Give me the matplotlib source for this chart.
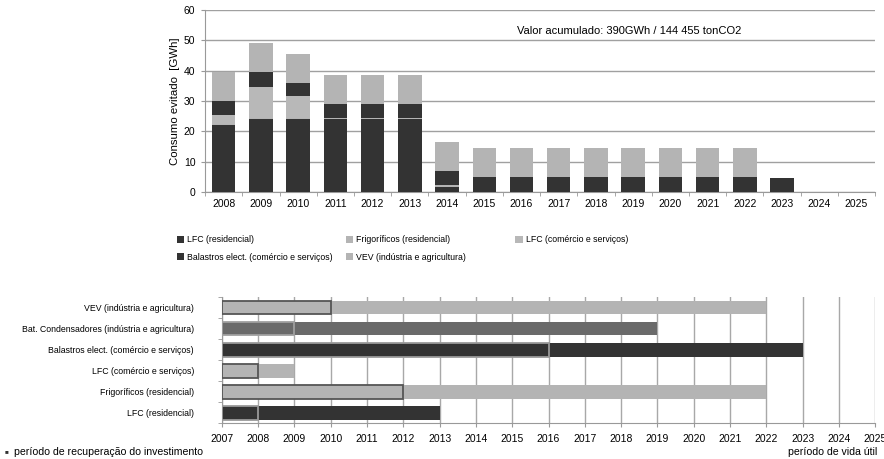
import numpy as np
import matplotlib
matplotlib.use("Agg")
import matplotlib.pyplot as plt

plt.rcParams['font.family'] = ['Liberation Sans', 'DejaVu Sans']

# --- top chart data (GWh avoided per year) ---
years = [str(y) for y in range(2008, 2026)]
lfc_res = [22, 24, 24, 24, 24, 24, 1.7, 0, 0, 0, 0, 0, 0, 0, 0, 0, 0, 0]
frigorificos = [0.4, 0.4, 0.4, 0.4, 0.4, 0.4, 0.5, 0, 0, 0, 0, 0, 0, 0, 0, 0, 0, 0]
lfc_com = [3.1, 10.1, 7.1, 0, 0, 0, 0, 0, 0, 0, 0, 0, 0, 0, 0, 0, 0, 0]
balastros = [4.5, 5, 4.5, 4.6, 4.6, 4.6, 4.7, 5, 5, 5, 5, 5, 5, 5, 5, 4.6, 0, 0]
vev = [9.5, 9.5, 9.5, 9.5, 9.5, 9.5, 9.6, 9.5, 9.5, 9.5, 9.5, 9.5, 9.5, 9.5, 9.5, 0, 0, 0]

series_names = ["LFC (residencial)", "Frigoríficos (residencial)", "LFC (comércio e serviços)",
                "Balastros elect. (comércio e serviços)", "VEV (indústria e agricultura)"]
series_vals = [lfc_res, frigorificos, lfc_com, balastros, vev]
series_cols = ["#333333", "#b4b4b4", "#b8b8b8", "#333333", "#b4b4b4"]

# --- bottom chart data (start, end of payback, end of useful life) ---
measures = ["LFC (residencial)", "Frigoríficos (residencial)", "LFC (comércio e serviços)",
            "Balastros elect. (comércio e serviços)",
            "Bat. Condensadores (indústria e agricultura)", "VEV (indústria e agricultura)"]
start_year = [2007, 2007, 2007, 2007, 2007, 2007]
payback_end = [2008, 2012, 2008, 2016, 2009, 2010]
life_end = [2013, 2022, 2009, 2023, 2019, 2022]
measure_cols = ["#333333", "#b4b4b4", "#b4b4b4", "#333333", "#6a6a6a", "#b4b4b4"]
payback_edge = ["#9a9a9a", "#555555", "#555555", "#9a9a9a", "#a0a0a0", "#555555"]

fig = plt.figure(figsize=(8.84, 4.59), dpi=100)

# ---------- stacked bars ----------
ax = fig.add_axes([0.232, 0.582, 0.758, 0.396])
x = np.arange(len(years))
bottom = np.zeros(len(years))
for name, vals, col in zip(series_names, series_vals, series_cols):
    ax.bar(x, vals, 0.63, bottom=bottom, color=col, label=name, zorder=3)
    bottom += np.array(vals)

ax.set_xlim(-0.5, len(years) - 0.5)
ax.set_ylim(0, 60)
ax.set_yticks(range(0, 61, 10))
ax.set_xticks(x)
ax.set_xticklabels(years)
ax.set_xticks(np.arange(-0.5, len(years), 1), minor=True)
ax.tick_params(axis='x', which='major', length=0, pad=5, labelsize=7.5)
ax.tick_params(axis='x', which='minor', length=3, color='#999999', direction='out')
ax.tick_params(axis='y', length=3, color='#999999', labelsize=7.5, pad=4)
ax.yaxis.grid(True, color='#a0a0a0', lw=1, zorder=0)
for s in ['top', 'right']:
    ax.spines[s].set_visible(False)
for s in ['left', 'bottom']:
    ax.spines[s].set_color('#999999')
ax.set_ylabel("Consumo evitado  [GWh]", fontsize=8.2, labelpad=3)
ax.text(0.465, 0.885, "Valor acumulado: 390GWh / 144 455 tonCO2", transform=ax.transAxes,
        fontsize=8.0, va='center', ha='left')

handles, labels = ax.get_legend_handles_labels()
leg_kw = dict(frameon=False, handlelength=0.85, handleheight=0.85,
              handletextpad=0.35, labelspacing=0.95, borderpad=0, borderaxespad=0,
              prop={'size': 6.3})
for cols_idx, xpos in [([0, 3], 0.200), ([1, 4], 0.391), ([2], 0.583)]:
    fig.legend([handles[i] for i in cols_idx], [labels[i] for i in cols_idx],
               loc='upper left', bbox_to_anchor=(xpos, 0.487), **leg_kw)

# ---------- lifetime / payback chart ----------
ax2 = fig.add_axes([0.251, 0.078, 0.739, 0.275])
y = np.arange(len(measures))
life_len = [e - s for s, e in zip(start_year, life_end)]
pay_len = [e - s for s, e in zip(start_year, payback_end)]
ax2.barh(y, life_len, 0.66, left=start_year, color=measure_cols, zorder=3)
ax2.barh(y, pay_len, 0.66, left=start_year, color=measure_cols,
         edgecolor=payback_edge, lw=1.3, zorder=4)

ax2.set_xlim(2007, 2025)
ax2.set_ylim(-0.5, len(measures) - 0.5)
ax2.set_xticks(range(2007, 2026))
ax2.set_yticks(y)
ax2.set_yticklabels(measures, fontsize=6.3)
ax2.set_yticks(np.arange(-0.5, len(measures), 1), minor=True)
ax2.tick_params(axis='y', which='major', length=0, pad=20)
ax2.tick_params(axis='y', which='minor', length=3, color='#999999')
ax2.tick_params(axis='x', length=3, color='#999999', labelsize=7.5, pad=5)
ax2.xaxis.grid(True, color='#a8a8a8', lw=1, zorder=0)
for s in ['top', 'right']:
    ax2.spines[s].set_visible(False)
for s in ['left', 'bottom']:
    ax2.spines[s].set_color('#999999')

fig.text(0.005, 0.016, "■", fontsize=4.5, color='#333333', va='center')
fig.text(0.016, 0.016, "período de recuperação do investimento", fontsize=7.6, va='center')
fig.text(0.992, 0.016, "período de vida útil", fontsize=7.6, va='center', ha='right')

fig.savefig("out.png", dpi=100)
